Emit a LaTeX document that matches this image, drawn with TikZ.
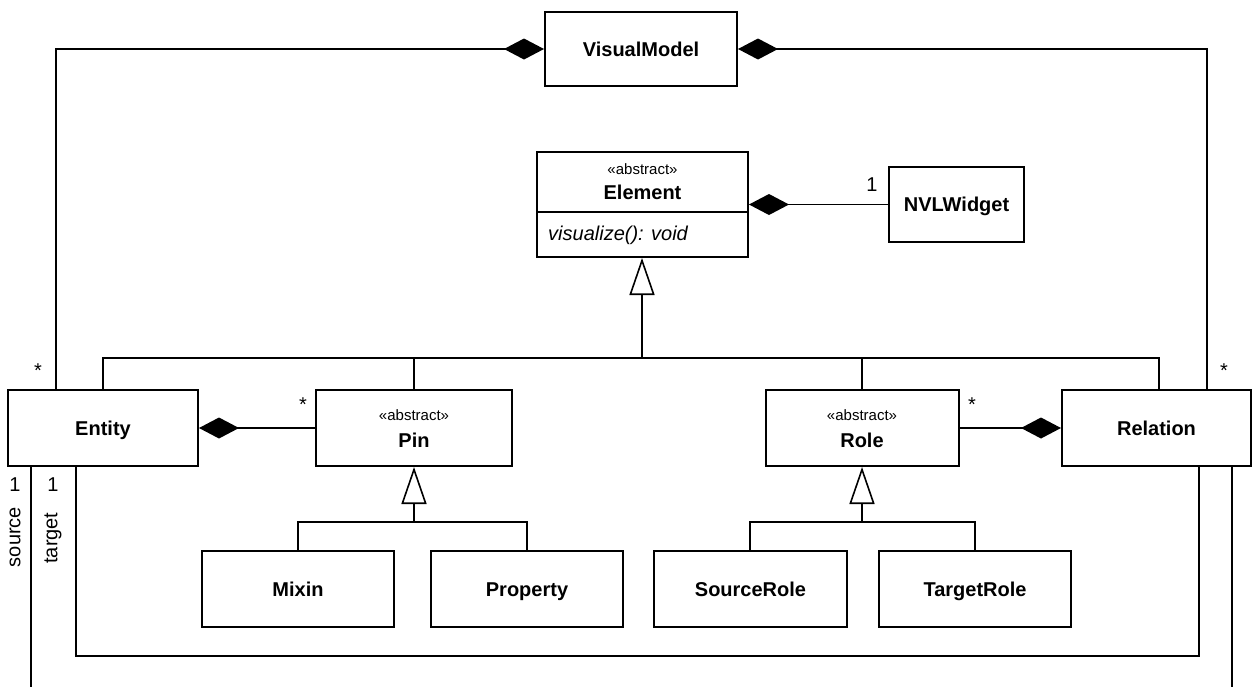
\documentclass[tikz,border=0pt]{standalone}
\usepackage{fontspec}
\setmainfont{Liberation Sans}
\usetikzlibrary{arrows.meta}
\begin{document}
\begin{tikzpicture}[x=1pt,y=-1pt,
  cls/.style={draw, line width=2pt, rectangle, inner sep=0pt, text height=17pt, text depth=2.5pt, font=\fontsize{20}{24}\selectfont\bfseries, align=center},
  conn/.style={line width=1.6pt},
  comp/.style={conn, {Diamond[length=40pt,width=21pt]}-},
  gen/.style={conn, {Triangle[open,length=37pt,width=25pt,fill=white]}-},
  lbl/.style={inner sep=0pt, font=\fontsize{20}{24}\selectfont},
  st/.style={inner sep=0pt, font=\fontsize{15}{18}\selectfont},
  bt/.style={inner sep=0pt, text height=17pt, text depth=2.5pt, font=\fontsize{20}{24}\selectfont\bfseries}]
\useasboundingbox (0,0) rectangle (1253,686);

% classes
\node[cls, minimum width=192pt, minimum height=74pt] (vm) at (641,49) {VisualModel};
\node[cls, minimum width=211pt, minimum height=105pt] (elem) at (642.5,204.5) {};
\node[cls, minimum width=135pt, minimum height=75pt] (nvl) at (956.5,204.5) {NVLWidget};
\node[cls, minimum width=190pt, minimum height=76pt] (entity) at (103,428) {Entity};
\node[cls, minimum width=196pt, minimum height=76pt] (pin) at (414,428) {};
\node[cls, minimum width=193pt, minimum height=76pt] (role) at (862,428) {};
\node[cls, minimum width=189pt, minimum height=76pt] (relation) at (1156.5,428) {Relation};
\node[cls, minimum width=192pt, minimum height=76pt] (mixin) at (298,589) {Mixin};
\node[cls, minimum width=192pt, minimum height=76pt] (property) at (527,589) {Property};
\node[cls, minimum width=193pt, minimum height=76pt] (srole) at (750.5,589) {SourceRole};
\node[cls, minimum width=192pt, minimum height=76pt] (trole) at (975,589) {TargetRole};

% Element compartments
\draw[line width=2pt] (537,212) -- (748,212);
\node[st] (elemst) at (642.5,169) {«abstract»};
\node[bt] (elemname) at (642.5,192) {Element};
\node[lbl, anchor=west, font=\fontsize{20}{24}\selectfont\itshape] (elemop) at (548,235) {visualize(): void};

% stereotypes for Pin and Role
\node[st] (pinst) at (414,415) {«abstract»};
\node[bt] (pinname) at (414,440) {Pin};
\node[st] (rolest) at (862,415) {«abstract»};
\node[bt] (rolename) at (862,440) {Role};

% VisualModel compositions
\draw[comp] (vm.west) -| ([xshift=49pt]entity.north west);
\draw[comp] (vm.east) -| ([xshift=-45pt]relation.north east);
\node[lbl] (m1) at (38,371) {*};
\node[lbl] (m2) at (1224,371) {*};

% Element - NVLWidget
\draw[comp] (elem.east) -- (nvl.west);
\node[lbl] (m3) at (872,185) {1};

% generalization to Element
\coordinate (hb) at (642,358);
\draw[gen] ([xshift=-0.5pt]elem.south) -- (hb);
\draw[conn] (entity.north) |- (hb);
\draw[conn] (pin.north) |- (hb);
\draw[conn] (role.north) |- (hb);
\draw[conn] ([xshift=2.5pt]relation.north) |- (hb);

% Entity - Pin
\draw[comp] (entity.east) -- (pin.west);
\node[lbl] (m4) at (303,405) {*};
% Relation - Role
\draw[comp] (relation.west) -- (role.east);
\node[lbl] (m5) at (972,405) {*};

% Pin generalization
\coordinate (pb) at (414,522);
\draw[gen] (pin.south) -- (pb);
\draw[conn] (mixin.north) |- (pb);
\draw[conn] (property.north) |- (pb);

% Role generalization
\coordinate (rb) at (862,522);
\draw[gen] (role.south) -- (rb);
\draw[conn] ([xshift=-0.5pt]srole.north) |- (rb);
\draw[conn] (trole.north) |- (rb);

% source / target
\coordinate (srcend) at (31,692);
\coordinate (relend) at (1232,692);
\draw[conn] ([xshift=-72pt]entity.south) -- (srcend);
\draw[conn] ([xshift=-27pt]entity.south) -- (76,656) -- (1199,656) -- ([xshift=42.5pt]relation.south);
\draw[conn] ([xshift=75.5pt]relation.south) -- (relend);
\node[lbl] (m6) at (15,485) {1};
\node[lbl] (m7) at (53,485) {1};
\node[lbl, rotate=90] (src) at (15,537) {source};
\node[lbl, rotate=90] (tgt) at (53,538) {target};
\end{tikzpicture}
\end{document}
